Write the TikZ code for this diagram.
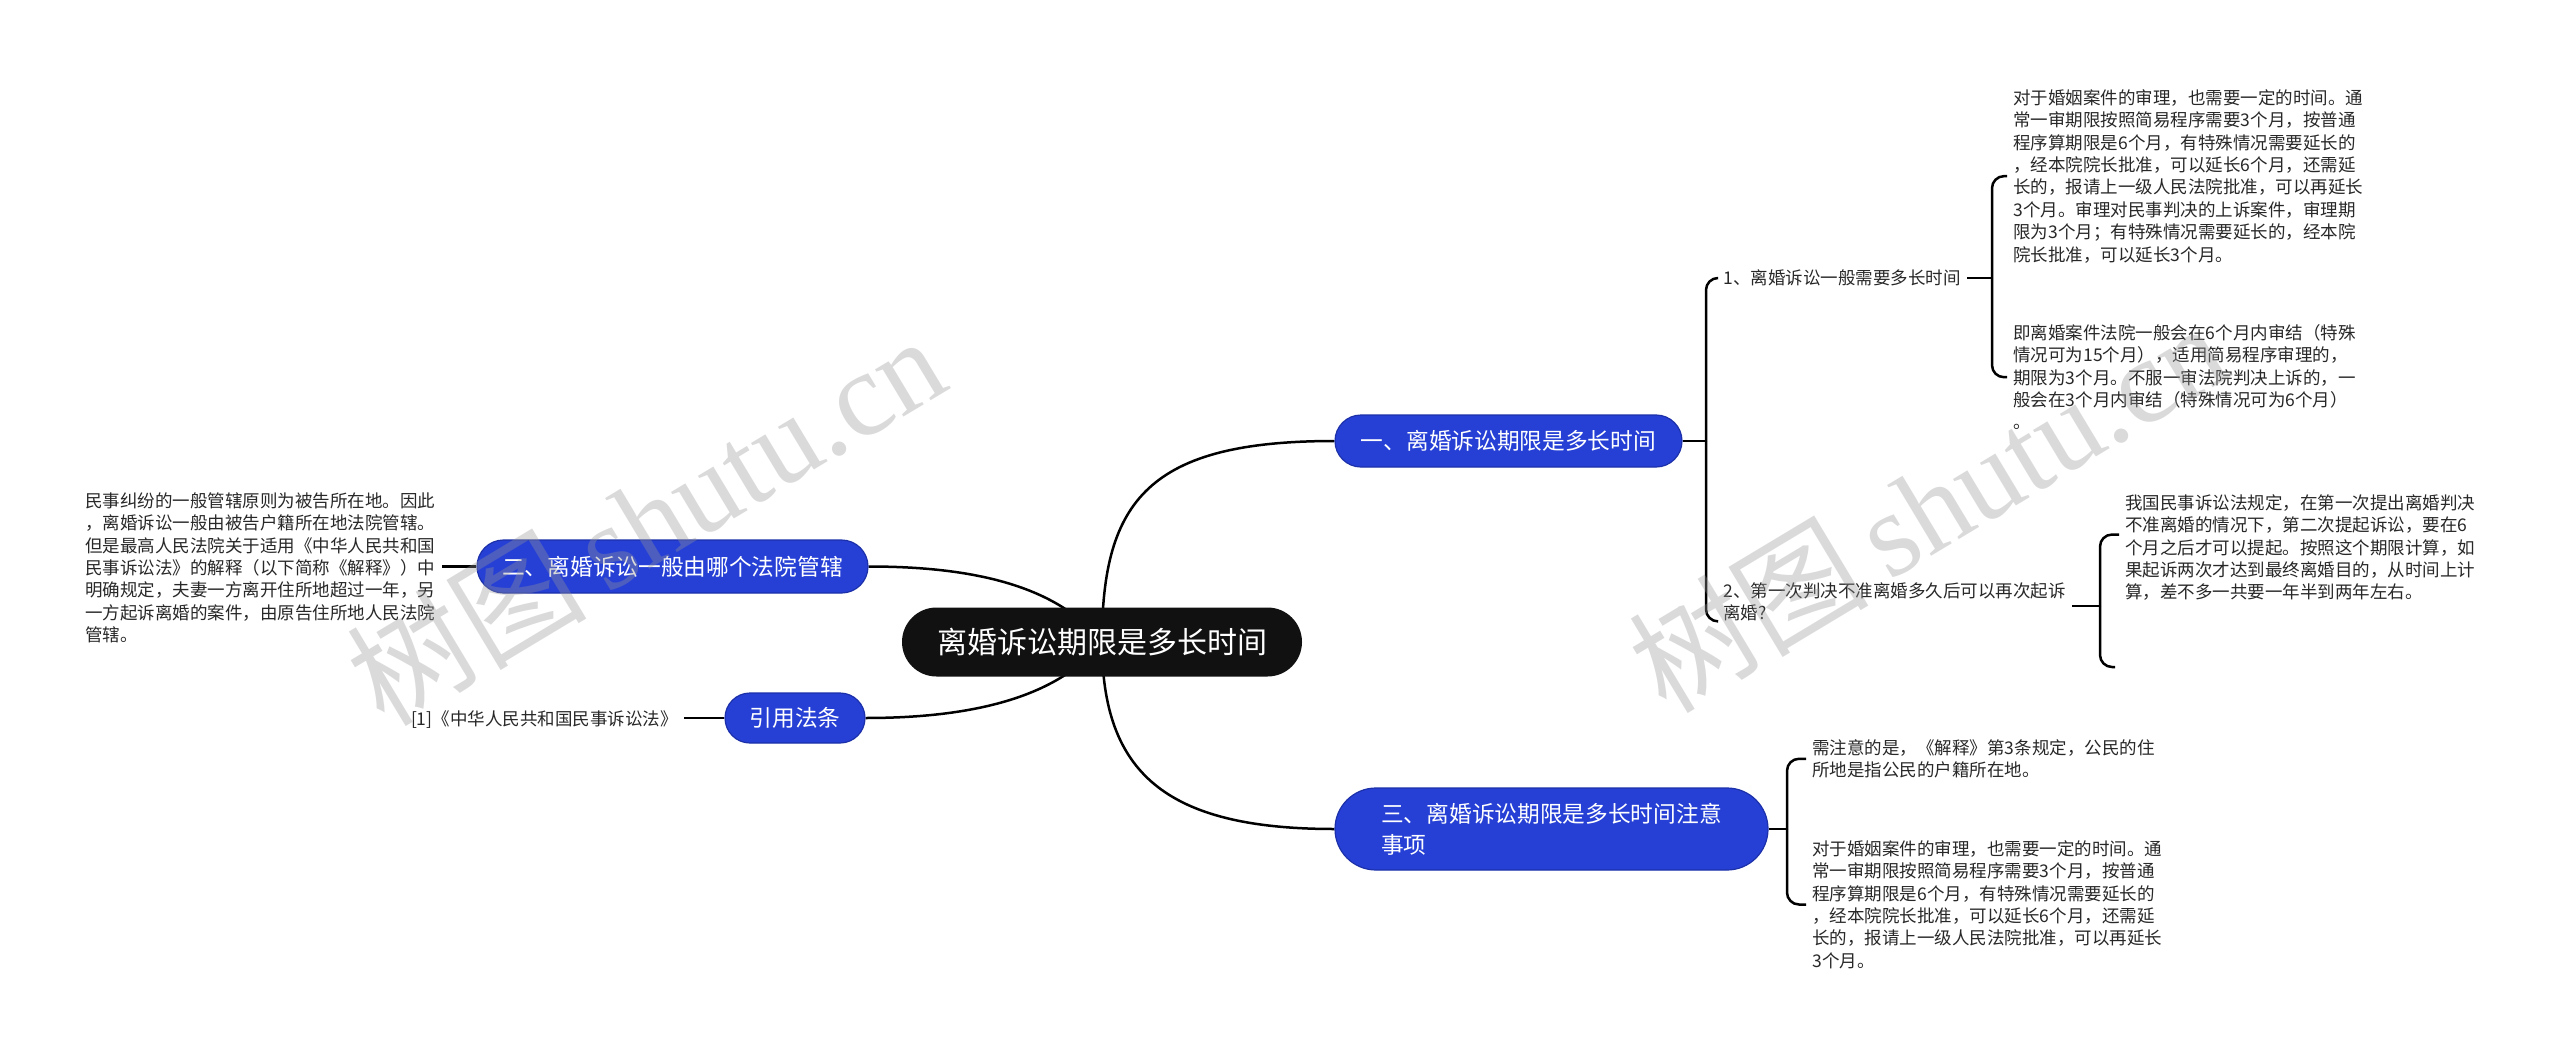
\documentclass[tikz,border=0pt]{standalone}
\usepackage{fontspec}
\setmainfont{Noto Sans CJK SC}
\newfontfamily\wmserif{Liberation Serif}
\newfontfamily\wmcjk{Noto Sans CJK SC}
\usetikzlibrary{shapes.misc,backgrounds,calc}
\definecolor{brblue}{RGB}{38,64,214}
\definecolor{brborder}{RGB}{28,48,170}
\definecolor{rootblack}{RGB}{17,17,17}
\definecolor{wmgray}{RGB}{150,150,150}
\definecolor{leaftext}{RGB}{40,40,40}
\begin{document}
\begin{tikzpicture}[x=0.5pt,y=-0.5pt,
  rootnode/.style={rounded rectangle, fill=rootblack, text=white, font=\fontsize{15}{18}\selectfont, minimum width=200pt, minimum height=34.5pt, inner sep=0pt},
  branch/.style={rounded rectangle, fill=brblue, draw=brborder, line width=0.6pt, text=white, font=\fontsize{11.35}{15.5}\selectfont, inner sep=0pt},
  leaf/.style={align=left, inner xsep=3pt, inner ysep=0pt, font=\fontsize{8.75}{11.2}\selectfont, text=leaftext},
  conn/.style={line width=1.25pt, black},
  brace/.style={conn, rounded corners=6pt},
  watermark/.style={rotate=31, text=wmgray, text opacity=0.35, inner sep=0pt},
]
\useasboundingbox (0,0) rectangle (2560,1054);

% main nodes
\node[rootnode] (root) at (1102,642) {离婚诉讼期限是多长时间};
\node[branch, minimum width=173.5pt, minimum height=26pt] (b1) at (1508.5,441) {一、离婚诉讼期限是多长时间};
\node[branch, minimum width=195.5pt, minimum height=26.5pt] (b2) at (672.5,566.5) {二、离婚诉讼一般由哪个法院管辖};
\node[branch, minimum width=70pt, minimum height=25pt] (cite) at (795,718) {引用法条};
\node[branch, minimum width=216.5pt, minimum height=41pt, align=left] (b3) at (1551.5,829) {三、离婚诉讼期限是多长时间注意\\事项};

% subtopics
\node[leaf, anchor=west] (c11) at (1717,278) {1、离婚诉讼一般需要多长时间};
\node[leaf, anchor=north west] (c12) at (1717,582) {2、第一次判决不准离婚多久后可以再次起诉\\离婚?};

% leaves
\node[leaf, anchor=north west] (l111) at (2007,89) {对于婚姻案件的审理，也需要一定的时间。通\\
常一审期限按照简易程序需要3个月，按普通\\
程序算期限是6个月，有特殊情况需要延长的\\
，经本院院长批准，可以延长6个月，还需延\\
长的，报请上一级人民法院批准，可以再延长\\
3个月。审理对民事判决的上诉案件，审理期\\
限为3个月；有特殊情况需要延长的，经本院\\
院长批准，可以延长3个月。};
\node[leaf, anchor=north west] (l112) at (2007,324) {即离婚案件法院一般会在6个月内审结（特殊\\
情况可为15个月），适用简易程序审理的，\\
期限为3个月。不服一审法院判决上诉的，一\\
般会在3个月内审结（特殊情况可为6个月）\\
。};
\node[leaf, anchor=north west] (l21) at (2119,494) {我国民事诉讼法规定，在第一次提出离婚判决\\
不准离婚的情况下，第二次提起诉讼，要在6\\
个月之后才可以提起。按照这个期限计算，如\\
果起诉两次才达到最终离婚目的，从时间上计\\
算，差不多一共要一年半到两年左右。};
\node[leaf, anchor=north west] (l31) at (1806,739) {需注意的是，《解释》第3条规定，公民的住\\
所地是指公民的户籍所在地。};
\node[leaf, anchor=north west] (l32) at (1806,840) {对于婚姻案件的审理，也需要一定的时间。通\\
常一审期限按照简易程序需要3个月，按普通\\
程序算期限是6个月，有特殊情况需要延长的\\
，经本院院长批准，可以延长6个月，还需延\\
长的，报请上一级人民法院批准，可以再延长\\
3个月。};
\node[leaf, anchor=north west] (l2) at (79,492) {民事纠纷的一般管辖原则为被告所在地。因此\\
，离婚诉讼一般由被告户籍所在地法院管辖。\\
但是最高人民法院关于适用《中华人民共和国\\
民事诉讼法》的解释（以下简称《解释》）中\\
明确规定，夫妻一方离开住所地超过一年，另\\
一方起诉离婚的案件，由原告住所地人民法院\\
管辖。};
\node[leaf, anchor=east] (lcite) at (684,720) {[1]《中华人民共和国民事诉讼法》};

% bracket coordinates
\coordinate (k1) at (1706,441);
\coordinate (k2) at (1992,278);
\coordinate (k3) at (2100,606);
\coordinate (e3) at (2115,667);
\coordinate (k4) at (1787,829);

\begin{pgfonlayer}{background}
\fill[white] (0,0) rectangle (2560,1054);
\draw[conn] (root.center) .. controls +(0,-142) and +(-185,0) .. (b1.west);
\draw[conn] (root.center) .. controls +(0,130) and +(-170,0) .. (b3.west);
\draw[conn] (root.center) .. controls +(-40,-50) and +(120,0) .. (b2.east);
\draw[conn] (root.center) .. controls +(-40,50) and +(120,0) .. (cite.east);
\draw[conn] (b2.west) -- (b2.west -| l2.east);
\draw[conn] (cite.west) -- (cite.west -| lcite.east);
% branch 1
\draw[conn] (b1.east) -- (k1);
\draw[brace] (k1) |- (c11.west);
\draw[brace] (k1) |- (c12.south west);
\draw[conn] (c11.east) -- (k2);
\draw[brace] (k2) |- (l111.west);
\draw[brace] (k2) |- (l112.west);
\draw[conn] (c12.east |- k3) -- (k3);
\draw[brace] (k3) |- ($(l21.west)+(0,-13)$);
\draw[brace] (k3) |- (e3);
% branch 3
\draw[conn] (b3.east) -- (k4);
\draw[brace] (k4) |- (l31.west);
\draw[brace] (k4) |- (l32.west);
\end{pgfonlayer}

% watermarks
\node[watermark] (wm1) at (645,519) {\fontsize{60}{60}\selectfont\wmcjk 树图\,\wmserif shutu.cn};
\node[watermark] (wm2) at (1927,506) {\fontsize{60}{60}\selectfont\wmcjk 树图\,\wmserif shutu.cn};
\end{tikzpicture}
\end{document}
